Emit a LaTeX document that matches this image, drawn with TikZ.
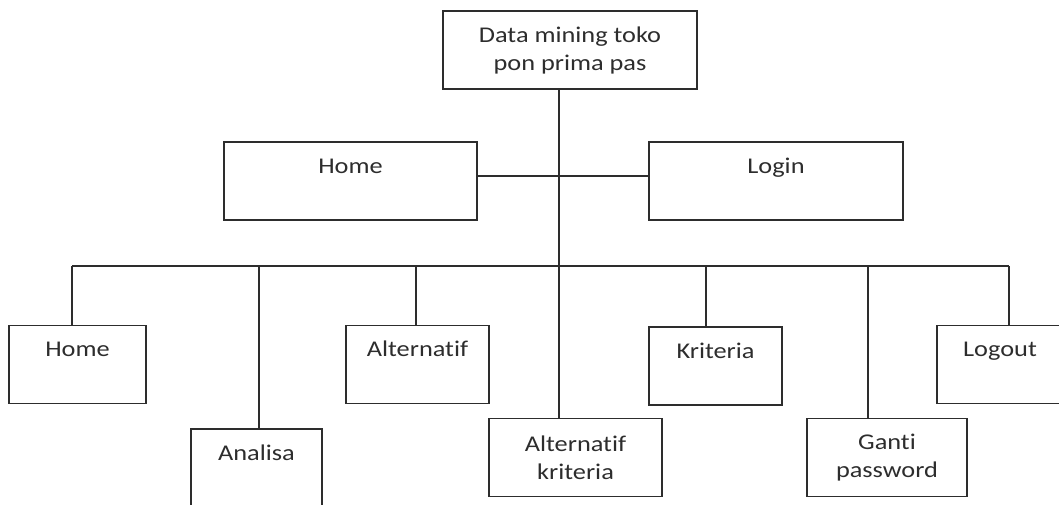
\documentclass[tikz,border=0pt]{standalone}
\usepackage{fontspec}
\setmainfont{Carlito}[FakeStretch=1.17, Ligatures=NoCommon, RawFeature={-calt;-dlig}]
\usetikzlibrary{math}
\definecolor{mygray}{RGB}{45,45,45}

\tikzset{
box/.style={draw=mygray, line width=1.4pt, inner sep=0pt, minimum height=78pt,
  align=center, text=mygray, font=\fontsize{22.5}{28}\selectfont},
onetop/.style={text height=31pt, text depth=47pt},
link/.style={draw=mygray, line width=1.4pt},
}

\begin{document}
\begin{tikzpicture}[x=1pt,y=-1pt]
\tikzmath{
\bary=266;
\trunk=559;
\ymid=181;
\ylow=364.5;
\ybot=457.5;
}
\useasboundingbox (0,0) rectangle (1059,504);

\node[box, minimum width=254pt] (root) at (570,50) {Data mining toko\\pon prima pas};

%%%%%%%%%%   second level
\node[box, onetop, minimum width=253pt] (home) at (350.5,\ymid) {Home};
\node[box, onetop, minimum width=254pt] (login) at (776,\ymid) {Login};

%%%%%%%%%%   menu
\node[box, onetop, minimum width=137pt] (menuhome) at (77.5,\ylow) {Home};
\node[box, onetop, minimum width=131pt] (analisa) at (256.5,468) {Analisa};
\node[box, onetop, minimum width=143pt] (alternatif) at (417.5,\ylow) {Alternatif};
\node[box, minimum width=173pt] (altkrit) at (575.5,\ybot) {Alternatif\\kriteria};
\node[box, onetop, minimum width=133pt] (kriteria) at (715.5,366) {Kriteria};
\node[box, minimum width=160pt] (ganti) at (887,\ybot) {Ganti\\password};
\node[box, onetop, minimum width=126pt] (logout) at (1000,\ylow) {Logout};

\coordinate (hub) at (\trunk,\bary);
\coordinate (barleft) at (72,\bary);
\coordinate (barright) at (1009,\bary);

\draw[link] (root.south -| hub) -- (hub);
\draw[link] ([yshift=5pt]home.east) -- ([yshift=5pt]login.west);
\draw[link] (barleft) -- (barright);
\foreach \n/\x in {menuhome/72, analisa/259, alternatif/416, altkrit/559, kriteria/706, ganti/868, logout/1009}
  \draw[link] (\x,\bary) -- (\x,\bary |- \n.north);

\end{tikzpicture}
\end{document}
